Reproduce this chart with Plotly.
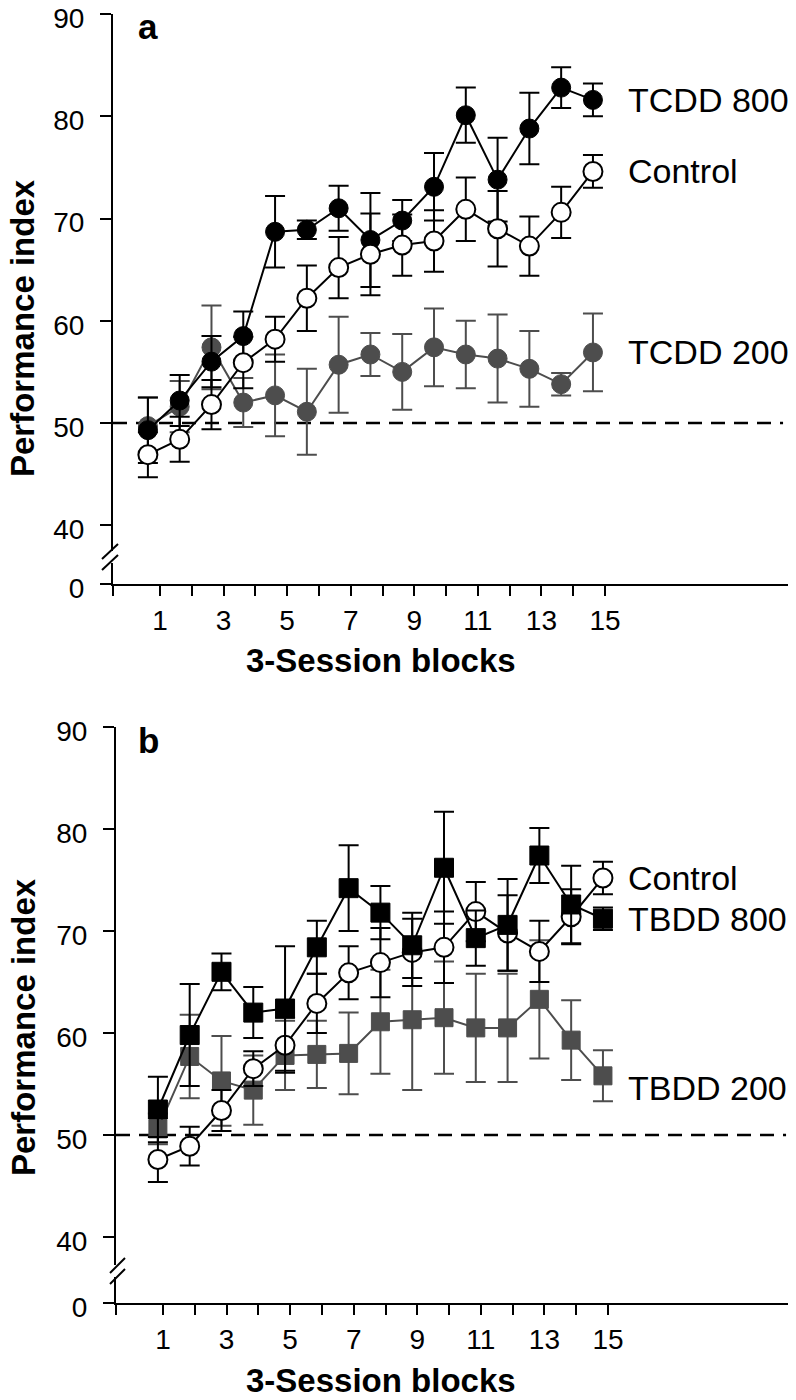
import plotly.graph_objects as go
import numpy as np

# ---------------- data ----------------
blocks = list(range(1, 16))
x_tick_labels = ["1", "", "3", "", "5", "", "7", "", "9", "", "11", "", "13", "", "15"]
y_ticks = [40, 50, 60, 70, 80, 90]
chance = 50

# panel a
tcdd800 = [49.3, 52.2, 56.0, 58.5, 68.7, 68.9, 71.0, 67.9, 69.8, 73.1, 80.1, 73.8, 78.8, 82.8, 81.6]
tcdd800_err = [3.2, 2.5, 2.5, 2.4, 3.5, 0.9, 2.2, 4.6, 2.0, 3.3, 2.7, 4.1, 3.5, 2.0, 1.6]
control_a = [46.9, 48.4, 51.8, 55.9, 58.2, 62.2, 65.2, 66.5, 67.4, 67.8, 70.9, 69.0, 67.3, 70.6, 74.6]
control_a_err = [2.2, 2.2, 2.4, 2.5, 2.2, 3.2, 3.0, 4.0, 3.0, 3.0, 3.1, 3.7, 2.9, 2.5, 1.6]
tcdd200 = [49.7, 51.6, 57.4, 52.0, 52.7, 51.1, 55.7, 56.7, 55.0, 57.4, 56.7, 56.3, 55.3, 53.8, 56.9]
tcdd200_err = [2.8, 2.5, 4.1, 2.4, 4.0, 4.2, 4.7, 2.1, 3.7, 3.8, 3.3, 4.3, 3.7, 1.1, 3.8]

# panel b
tbdd800 = [52.5, 59.8, 66.0, 62.0, 62.4, 68.4, 74.2, 71.8, 68.6, 76.2, 69.3, 70.6, 77.4, 72.6, 71.2]
tbdd800_err = [3.2, 5.0, 1.8, 2.5, 6.1, 2.6, 4.2, 2.6, 3.2, 5.5, 2.7, 4.5, 2.7, 3.8, 1.1]
control_b = [47.6, 48.9, 52.4, 56.5, 58.8, 62.9, 65.9, 66.9, 67.9, 68.4, 71.9, 69.8, 68.0, 71.4, 75.2]
control_b_err = [2.2, 1.9, 2.0, 1.7, 2.7, 2.9, 2.6, 3.4, 3.3, 3.5, 2.9, 3.7, 3.0, 2.7, 1.6]
tbdd200 = [50.6, 57.7, 55.3, 54.4, 57.8, 57.9, 58.0, 61.1, 61.3, 61.5, 60.5, 60.5, 63.3, 59.3, 55.8]
tbdd200_err = [1.5, 4.1, 4.4, 3.4, 3.4, 3.3, 4.0, 5.1, 6.9, 5.5, 5.3, 5.3, 5.8, 3.9, 2.5]

# ---------------- style ----------------
W, H = 796, 1400
OFF = 8  # page body margin
FONT = "Liberation Sans, Arial, Helvetica, sans-serif"
BLACK = "#000000"
GRAY = "#4d4d4d"
XR = [-0.478, 20.85]


def px(x):
    return (x - OFF) / W


def py(y):
    return 1 - (y - OFF) / H


fig = go.Figure()


def add_series(xa, ya, xs, ys, err, color, symbol, fill, size, lw=2):
    fig.add_trace(go.Scatter(
        x=xs, y=ys, xaxis=xa, yaxis=ya, mode="lines+markers",
        line=dict(color=color, width=lw),
        marker=dict(symbol=symbol, size=size, color=fill,
                    line=dict(color=color, width=2 if fill == "white" else 1)),
        error_y=dict(type="data", array=err, visible=True, color=color,
                     thickness=2, width=10),
        showlegend=False, hoverinfo="skip", cliponaxis=False,
    ))


xa_pts = np.array(blocks) - 0.38
xb_pts = np.array(blocks) - 0.16

# panel a: gray, black, control(on top)
add_series("x", "y", xa_pts, tcdd200, tcdd200_err, GRAY, "circle", GRAY, 19)
add_series("x", "y", xa_pts, tcdd800, tcdd800_err, BLACK, "circle", BLACK, 19)
add_series("x", "y", xa_pts, control_a, control_a_err, BLACK, "circle", "white", 19)

# panel b: gray, control, black(on top)
add_series("x2", "y3", xb_pts, tbdd200, tbdd200_err, GRAY, "square", GRAY, 18)
add_series("x2", "y3", xb_pts, control_b, control_b_err, BLACK, "circle", "white", 19)
add_series("x2", "y3", xb_pts, tbdd800, tbdd800_err, BLACK, "square", BLACK, 19)

# empty traces so the lower (broken-axis) subplots exist
for xa, ya in (("x", "y2"), ("x2", "y4")):
    fig.add_trace(go.Scatter(x=[None], y=[None], xaxis=xa, yaxis=ya, mode="markers",
                             showlegend=False, hoverinfo="skip"))

axis_common = dict(showline=True, linecolor=BLACK, linewidth=2, ticks="outside",
                   tickcolor=BLACK, tickwidth=2, showgrid=False, zeroline=False,
                   automargin=False, ticklabeloverflow="allow",
                   tickfont=dict(family=FONT, size=28, color=BLACK), fixedrange=True)
y_extra = dict(ticklabelstandoff=10, ticklabelshift=4, ticklen=11)

x_tickvals = [XR[0]] + blocks
x_ticktext = [""] + x_tick_labels

panels = [
    dict(x="xaxis", yu="yaxis", yl="yaxis2", xref="x", yuref="y", ylref="y2",
         xdom=(113, 791), ytop=14, ubot=551, ltop=563, zero=584),
    dict(x="xaxis2", yu="yaxis3", yl="yaxis4", xref="x2", yuref="y3", ylref="y4",
         xdom=(116, 794), ytop=727, ubot=1265, ltop=1277, zero=1303),
]
scales = [10.225, 10.2]

layout_axes = {}
for p, s in zip(panels, scales):
    bottom_val = 90 - (p["ubot"] - p["ytop"]) / s
    layout_axes[p["x"]] = dict(axis_common, domain=[px(p["xdom"][0]), px(p["xdom"][1])],
                               range=XR, anchor=p["ylref"], tickmode="array",
                               tickvals=x_tickvals, ticktext=x_ticktext, ticklen=10)
    layout_axes[p["yu"]] = dict(axis_common, domain=[py(p["ubot"]), py(p["ytop"])],
                                range=[bottom_val, 90], anchor=p["xref"], tickmode="array",
                                tickvals=y_ticks, **y_extra)
    layout_axes[p["yl"]] = dict(axis_common, domain=[py(p["zero"]), py(p["ltop"])],
                                range=[0, 2], anchor=p["xref"], tickmode="array",
                                tickvals=[0], **y_extra)

shapes = []
for p in panels:
    shapes.append(dict(type="line", xref=p["xref"], yref=p["yuref"], x0=XR[0], x1=20.6,
                       y0=chance, y1=chance, layer="below",
                       line=dict(color=BLACK, width=2.5, dash="14px,9px")))
breaks = [((102, 559), (118, 544)), ((102, 570), (118, 555)),
          ((110, 1273), (125, 1258)), ((110, 1284), (125, 1269))]
for (x0, y0), (x1, y1) in breaks:
    shapes.append(dict(type="line", xref="paper", yref="paper", x0=px(x0), y0=py(y0),
                       x1=px(x1), y1=py(y1), line=dict(color=BLACK, width=2)))

annotations = []
lab_font = dict(family=FONT, size=34, color=BLACK)
LABEL_X = 15.8
labels = [
    ("x", "y", "TCDD 800", tcdd800[-1], 0),
    ("x", "y", "Control", control_a[-1], 0),
    ("x", "y", "TCDD 200", tcdd200[-1], 0),
    ("x2", "y3", "Control", control_b[-1], 0),
    ("x2", "y3", "TBDD 800", tbdd800[-1], 0),
    ("x2", "y3", "TBDD 200", tbdd200[-1], -12),
]
for xr, yr, t, yv, ys in labels:
    annotations.append(dict(xref=xr, yref=yr, x=LABEL_X - (0.1 if xr == "x2" else 0), y=yv,
                            text=t, showarrow=False, xanchor="left", yanchor="middle",
                            xshift=-4, yshift=ys, font=lab_font))

title_font = dict(family=FONT, size=33, color=BLACK)
for yc in (328, 1027):
    annotations.append(dict(xref="paper", yref="paper", x=px(23), y=py(yc),
                            text="<b>Performance index</b>", textangle=-90, showarrow=False,
                            xanchor="center", yanchor="middle", font=title_font))
for yc in (660, 1380):
    annotations.append(dict(xref="paper", yref="paper", x=px(381), y=py(yc),
                            text="<b>3-Session blocks</b>", showarrow=False,
                            xanchor="center", yanchor="middle", font=title_font))
for letter, xl, yc in (("a", 136, 26), ("b", 136, 740)):
    annotations.append(dict(xref="paper", yref="paper", x=px(xl), y=py(yc),
                            text="<b>%s</b>" % letter, showarrow=False,
                            xanchor="left", yanchor="middle",
                            font=dict(family=FONT, size=35, color=BLACK)))

fig.update_layout(
    width=W, height=H, margin=dict(l=0, r=0, t=0, b=0, autoexpand=False),
    paper_bgcolor="white", plot_bgcolor="white",
    font=dict(family=FONT, color=BLACK),
    shapes=shapes, annotations=annotations, showlegend=False,
    **layout_axes,
)

fig.write_html("out.html")
